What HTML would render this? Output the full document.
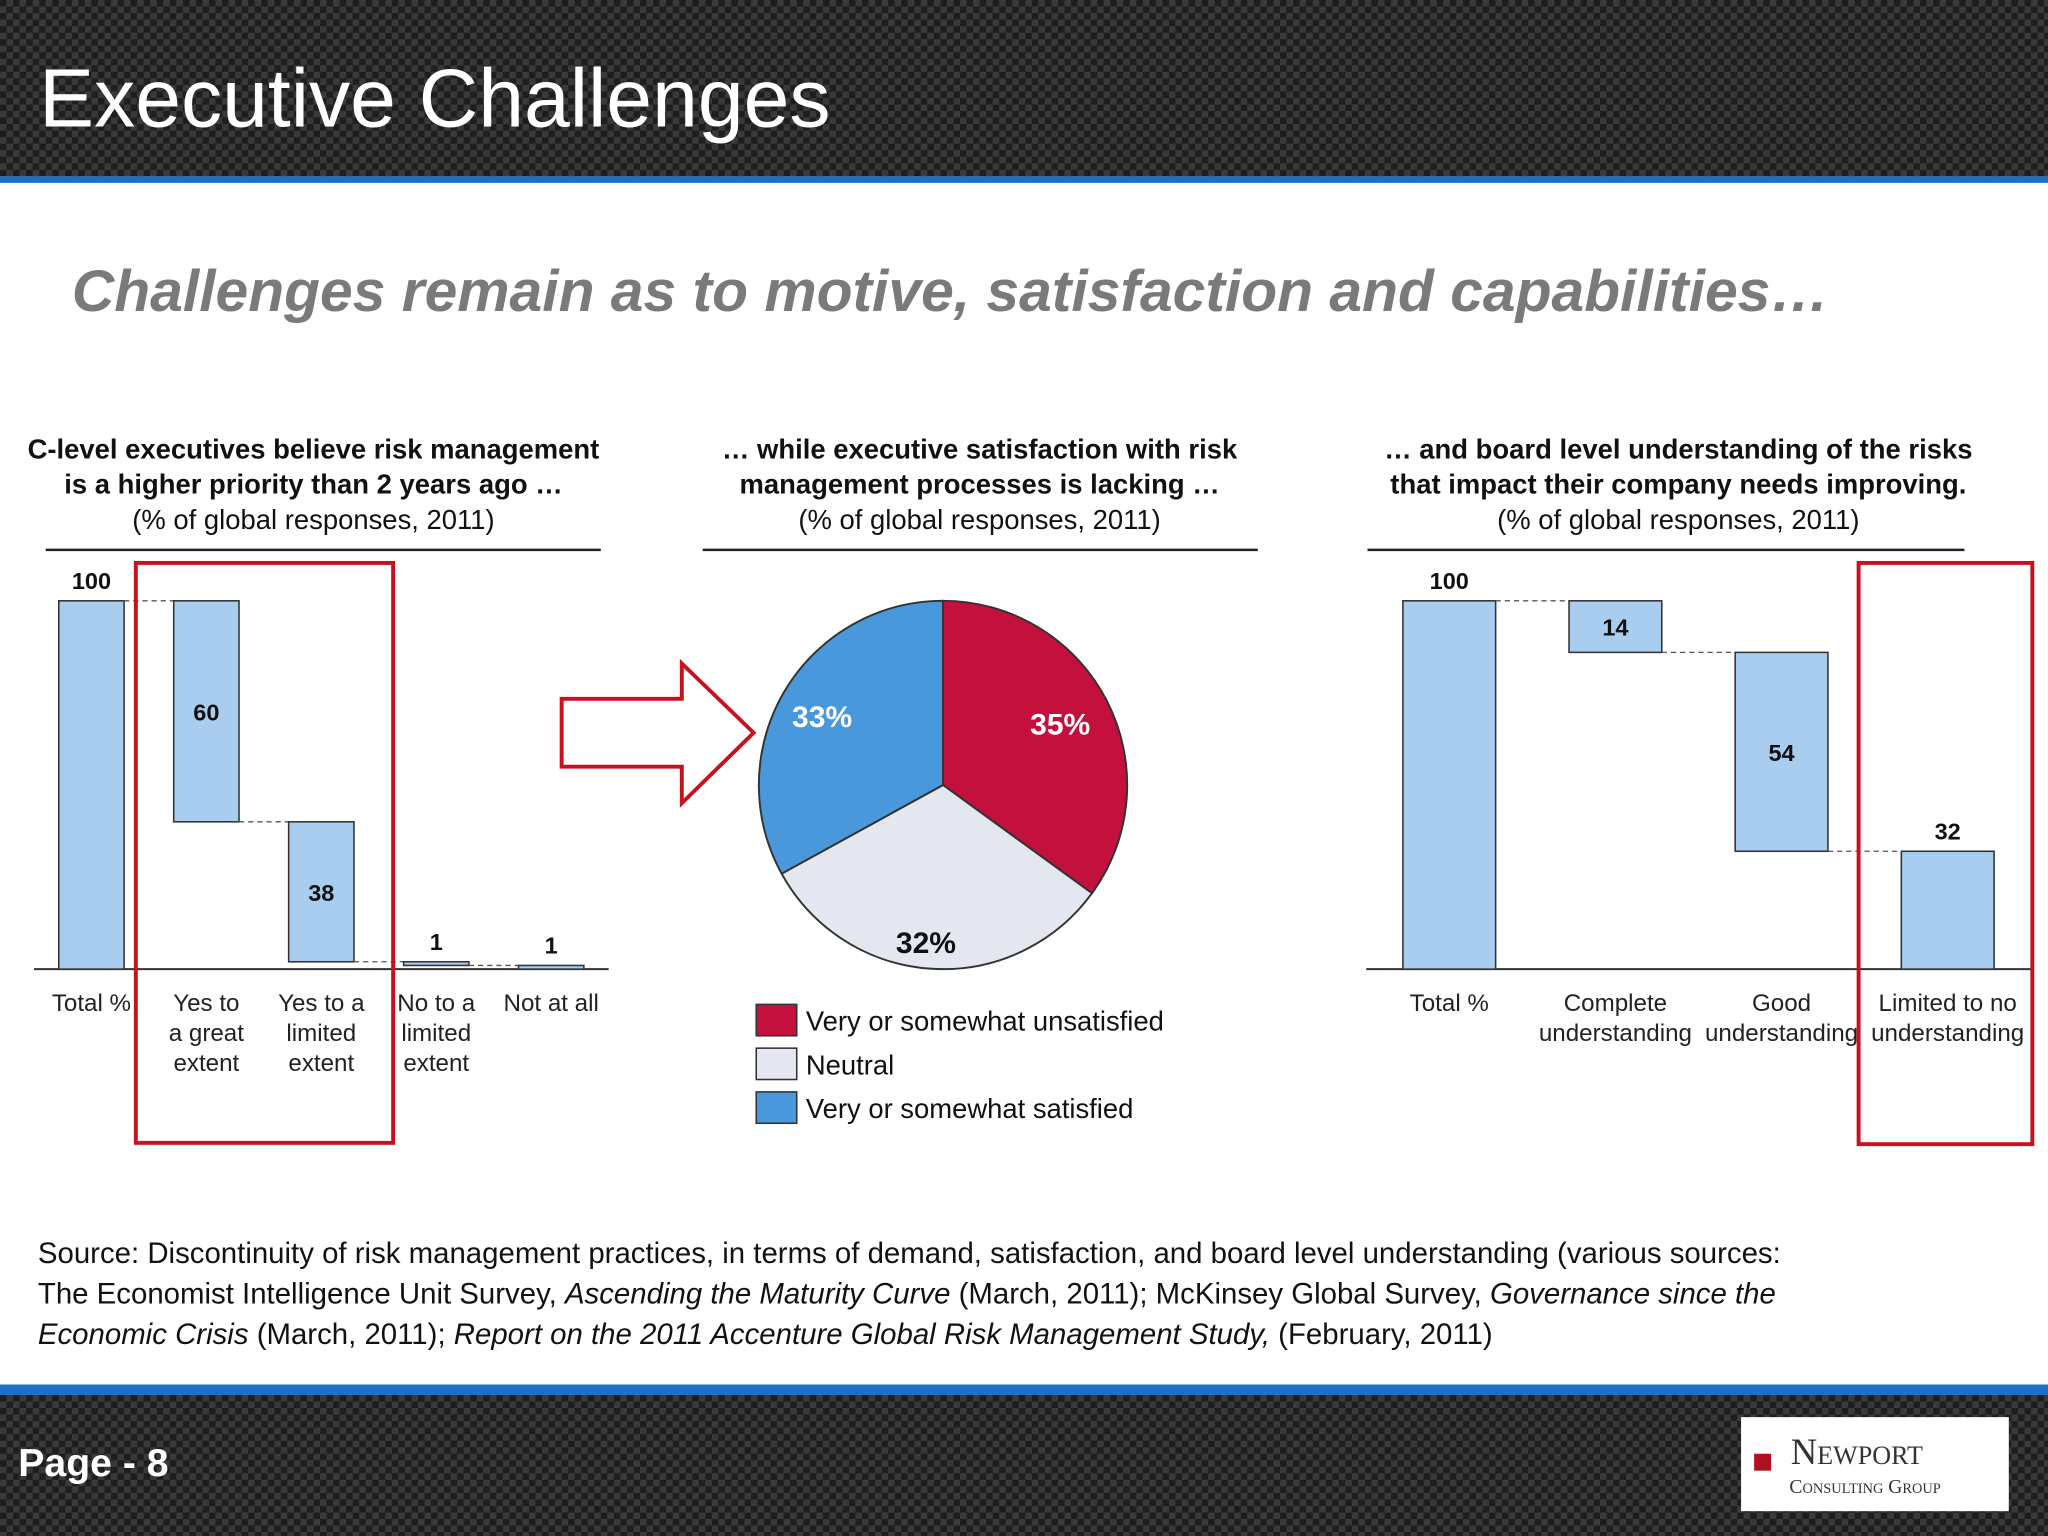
<!DOCTYPE html>
<html><head><meta charset="utf-8">
<style>
html,body{margin:0;padding:0;width:2048px;height:1536px;overflow:hidden;background:#fff}
#wrap{position:absolute;left:0;top:0;width:1568px;height:1176px;transform:scale(1.30612);transform-origin:0 0;font-family:"Liberation Sans",sans-serif}
.carbon{background-color:#1e1e1e;background-image:
 linear-gradient(45deg,#3a3a3a 25%,transparent 25%,transparent 75%,#3a3a3a 75%),
 linear-gradient(45deg,#3a3a3a 25%,transparent 25%,transparent 75%,#3a3a3a 75%);
 background-size:10px 10px;background-position:0 0,5px 5px}
.abs{position:absolute}
.ct{position:absolute;text-align:center;font-size:21px;line-height:27px;color:#111}
.src{position:absolute;left:29px;top:944px;font-size:22.5px;line-height:31px;color:#111;white-space:nowrap}
</style></head><body>
<div id="wrap">
<div class="abs carbon" style="left:0;top:0;width:1568px;height:135px"></div>
<div class="abs" style="left:0;top:135px;width:1568px;height:5px;background:#1e6fc8"></div>
<div class="abs" style="left:30px;top:40px;font-size:63px;color:#fff">Executive Challenges</div>
<div class="abs" style="left:55px;top:197px;font-size:45px;font-weight:bold;font-style:italic;color:#7a7a7a">Challenges remain as to motive, satisfaction and capabilities…</div>

<div class="ct" style="left:0;top:331px;width:480px"><b>C-level executives believe risk management<br>is a higher priority than 2 years ago …</b><br>(% of global responses, 2011)</div>
<div class="ct" style="left:495px;top:331px;width:510px"><b>… while executive satisfaction with risk<br>management processes is lacking …</b><br>(% of global responses, 2011)</div>
<div class="ct" style="left:1025px;top:331px;width:520px"><b>… and board level understanding of the risks<br>that impact their company needs improving.</b><br>(% of global responses, 2011)</div>

<svg id="chart" class="abs" style="left:0;top:0" width="1568" height="1176"></svg>

<div class="src">Source: Discontinuity of risk management practices, in terms of demand, satisfaction, and board level understanding (various sources:<br>The Economist Intelligence Unit Survey, <i>Ascending the Maturity Curve</i> (March, 2011); McKinsey Global Survey, <i>Governance since the</i><br><i>Economic Crisis</i> (March, 2011); <i>Report on the 2011 Accenture Global Risk Management Study,</i> (February, 2011)</div>

<div class="abs" style="left:0;top:1060px;width:1568px;height:8px;background:#1e6fc8"></div>
<div class="abs carbon" style="left:0;top:1068px;width:1568px;height:108px"></div>
<div class="abs" style="left:14px;top:1104px;font-size:30px;font-weight:bold;color:#fff">Page - 8</div>
<div class="abs" style="left:1333px;top:1085px;width:205px;height:72px;background:#fff">
 <div class="abs" style="left:10px;top:28px;width:13px;height:13px;background:#b01020"></div>
 <div class="abs" style="left:38px;top:12px;font-family:'Liberation Serif',serif;font-size:28px;color:#333;font-variant:small-caps">Newport</div>
 <div class="abs" style="left:37px;top:46px;font-family:'Liberation Serif',serif;font-size:15px;color:#333;font-variant:small-caps">Consulting Group</div>
</div>
</div>
<script>
// Left waterfall data
const leftCats=["Total %","Yes to\na great\nextent","Yes to a\nlimited\nextent","No to a\nlimited\nextent","Not at all"];
const leftVals=[100,60,38,1,1];
// Pie data
const pieLabels=["Very or somewhat unsatisfied","Neutral","Very or somewhat satisfied"];
const pieVals=[35,32,33];
// Right waterfall data
const rightCats=["Total %","Complete\nunderstanding","Good\nunderstanding","Limited to no\nunderstanding"];
const rightVals=[100,14,54,32];

const NS="http://www.w3.org/2000/svg";
const svg=document.getElementById('chart');
function mk(t,a,p){const e=document.createElementNS(NS,t);for(const k in a)e.setAttribute(k,a[k]);(p||svg).appendChild(e);return e;}
function txt(x,y,s,o){const e=mk('text',Object.assign({x:x,y:y,'font-family':'Liberation Sans, sans-serif','text-anchor':'middle'},o||{}));e.textContent=s;return e;}

[[35,460],[538,963],[1047,1504]].forEach(function(r){const l=mk('line',{x1:r[0],x2:r[1],y1:421,y2:421,stroke:'#222','stroke-width':2});

});

function waterfall(cats,vals,x0,x1,step,bw,base,top,name,total,lastAbove){
 const y=function(v){return base-(base-top)*v/100;};
 const ax=mk('line',{x1:x0,x2:x1,y1:base,y2:base,stroke:'#333','stroke-width':1.5});
 
 
 let level=total;
 vals.forEach(function(v,i){
  const cx=x0+step*(i+0.5);
  let lo,hi;
  if(i===0){lo=0;hi=v;}else{hi=level;lo=level-v;level=lo;}
  if(i===vals.length-1&&i>0){lo=0;hi=v;}
  const r=mk('rect',{x:cx-bw/2,y:y(hi),width:bw,height:Math.max(1.5,y(lo)-y(hi)),fill:'#a9cdee',stroke:'#333','stroke-width':1.2});
  
  
  if(i<vals.length-1){
   const nxt=x0+step*(i+1.5);
   const d=mk('line',{x1:cx+bw/2,x2:nxt-bw/2,y1:y(i===0?hi:lo),y2:y(i===0?hi:lo),stroke:'#555','stroke-width':1,'stroke-dasharray':'4,3'});
   
   
  }
  const above=(y(lo)-y(hi))<30||i===0||(lastAbove&&i===vals.length-1);
  const t=txt(cx,above?y(hi)-9:(y(hi)+y(lo))/2+7,String(v),{'font-size':18,'font-weight':'bold',fill:'#111'});
  
  
  cats[i].split('\n').forEach(function(s,k){
   const c=txt(cx,774+k*23,s,{'font-size':18.5,fill:'#222'});
   
   
  });
 });
}
waterfall(leftCats,leftVals,26,466,88,50,742,460,'left',100,false);
waterfall(rightCats,rightVals,1046,1556,127.2,71,742,460,'right',100,true);

[[104,431,197,444],[1423,431,133,445]].forEach(function(b){const r=mk('rect',{x:b[0],y:b[1],width:b[2],height:b[3],fill:'none',stroke:'#c8101e','stroke-width':3});

});

const ar=mk('polygon',{points:'430,535 522,535 522,508 577,561 522,615 522,587 430,587',fill:'#fff',stroke:'#c8101e','stroke-width':3});



const pcx=722,pcy=601,pr=141,pcol=['#c4103c','#e4e6f0','#4a98dc'];
const tot=pieVals.reduce(function(a,b){return a+b;},0);
let ang=0;
pieVals.forEach(function(v,i){
 const a0=ang,a1=ang+v/tot*2*Math.PI;ang=a1;
 const p=function(a,r){return [pcx+r*Math.sin(a),pcy-r*Math.cos(a)];};
 const s=p(a0,pr),e=p(a1,pr);
 const sl=mk('path',{d:'M'+pcx+','+pcy+' L'+s[0]+','+s[1]+' A'+pr+','+pr+' 0 '+((a1-a0)>Math.PI?1:0)+' 1 '+e[0]+','+e[1]+' Z',fill:pcol[i],stroke:'#333','stroke-width':1.5});
 
 
 const m=(a0+a1)/2,lp=p(m,pr*(i===1?0.8:0.73));
 const t=txt(lp[0]+(i===0?-2:(i===2?-4:-6)),lp[1]+(i===1?16:8),v+'%',{'font-size':23,'font-weight':'bold',fill:i===1?'#111':'#fff'});
 
 
});
pieLabels.forEach(function(l,i){
 const y0=769+i*33.5;
 const r=mk('rect',{x:579,y:y0,width:31,height:24,fill:pcol[i],stroke:'#333','stroke-width':1.2});
 
 
 const t=txt(617,y0+20,l,{'font-size':21,fill:'#111','text-anchor':'start'});
 
 
});
</script>
</body></html>
